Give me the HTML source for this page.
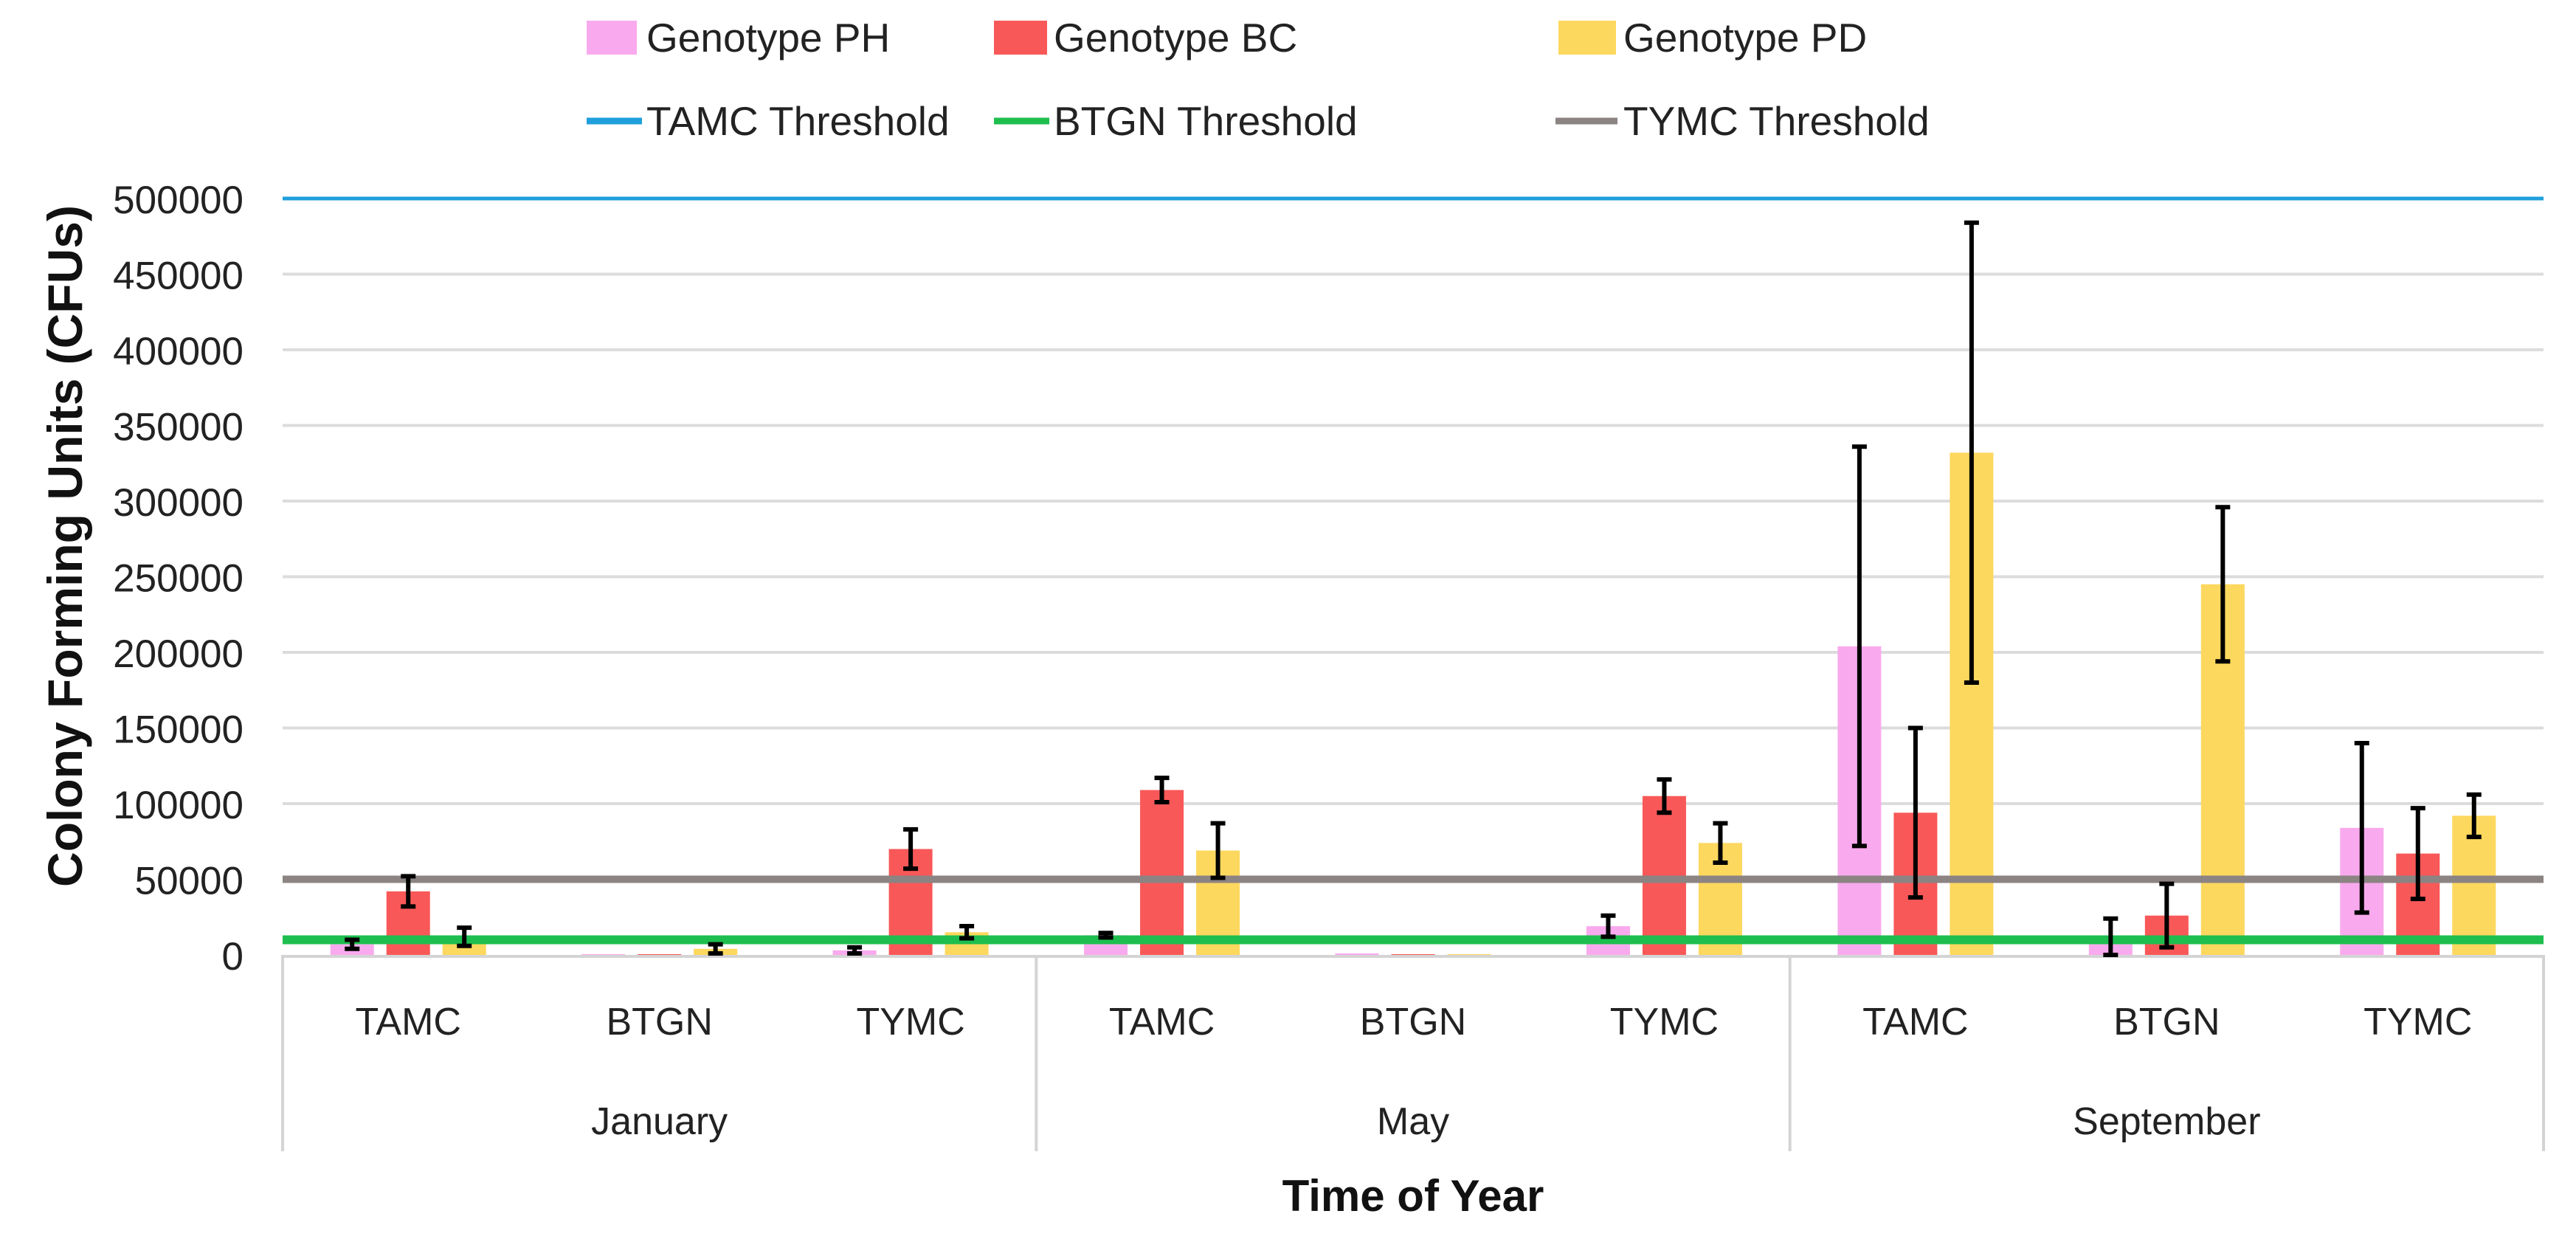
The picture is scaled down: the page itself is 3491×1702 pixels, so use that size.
<!DOCTYPE html>
<html><head><meta charset="utf-8"><style>
html,body{margin:0;padding:0;background:#fff;}
svg{display:block;font-family:"Liberation Sans",sans-serif;}
</style></head><body>
<svg id="chart" width="3491" height="1702" viewBox="0 0 3491 1702" xmlns="http://www.w3.org/2000/svg">
<g id="grid"></g>
<g id="yticks"></g>
<g id="xaxis"></g>
<g id="bars"></g>
<g id="thresholds"></g>
<g id="errs"></g>
<text x="0" y="0" transform="translate(111,740) rotate(-90)" text-anchor="middle" font-size="66" font-weight="bold" fill="#111">Colony Forming Units (CFUs)</text>
<text x="1915" y="1641" text-anchor="middle" font-size="60" font-weight="bold" fill="#111">Time of Year</text>
<g font-size="55" fill="#222">
 <g><rect x="795" y="28" width="68" height="46" fill="#f9aaee"/><text x="876" y="70">Genotype PH</text></g>
 <g><rect x="1347" y="28" width="72" height="46" fill="#f95858"/><text x="1428" y="70">Genotype BC</text></g>
 <g><rect x="2112" y="28" width="78" height="46" fill="#fdd85e"/><text x="2200" y="70">Genotype PD</text></g>
 <g><line x1="795" y1="164" x2="870" y2="164" stroke="#1f9fdc" stroke-width="9"/><text x="876" y="183">TAMC Threshold</text></g>
 <g><line x1="1347" y1="164" x2="1422" y2="164" stroke="#1ebe4e" stroke-width="9"/><text x="1428" y="183">BTGN Threshold</text></g>
 <g><line x1="2108" y1="164" x2="2192" y2="164" stroke="#8c8383" stroke-width="9"/><text x="2200" y="183">TYMC Threshold</text></g>
</g>
</svg>
<script>
const months = ["January","May","September"];
const categories = ["TAMC","BTGN","TYMC","TAMC","BTGN","TYMC","TAMC","BTGN","TYMC"];
const yTicks = [0,50000,100000,150000,200000,250000,300000,350000,400000,450000,500000];
const seriesNames = ["Genotype PH","Genotype BC","Genotype PD"];
const phValues = [7000,500,3000,13000,1000,19000,204000,12000,84000];
const phErr = [3000,0,2000,1500,0,7000,132000,12000,56000];
const bcValues = [42000,500,70000,109000,500,105000,94000,26000,67000];
const bcErr = [10000,0,13000,8000,0,11000,56000,21000,30000];
const pdValues = [12000,4000,15000,69000,500,74000,332000,245000,92000];
const pdErr = [6000,3000,4000,18000,0,13000,152000,51000,14000];
const thresholdValues = [500000,10000,50000];

const NS="http://www.w3.org/2000/svg";
const L=383,R=3447,Y0=1294,Y1=269;
const y=v=>Y0-(v/500000)*(Y0-Y1);
const cw=(R-L)/categories.length;
const xc=i=>L+cw*(i+0.5);
function mk(tag,attrs,parent){const e=document.createElementNS(NS,tag);for(const k in attrs)e.setAttribute(k,attrs[k]);parent.appendChild(e);return e;}
const grid=document.getElementById('grid'),yt=document.getElementById('yticks');
yTicks.forEach(t=>{
  if(t>0&&t<500000){const g=mk('line',{x1:L,x2:R,y1:y(t),y2:y(t),stroke:'#dcdcdc','stroke-width':4},grid);
  
  }
  const tx=mk('text',{x:330,y:y(t)+20,'text-anchor':'end','font-size':53,fill:'#222'},yt);
  tx.textContent=t;
  
  
});
const xa=document.getElementById('xaxis');
mk('line',{x1:L,x2:R,y1:Y0+2,y2:Y0+2,stroke:'#d4d4d4','stroke-width':4},xa);
[0,3,6,9].forEach(i=>{const sx=L+cw*i;const s=mk('line',{x1:sx,x2:sx,y1:Y0,y2:1560,stroke:'#d4d4d4','stroke-width':4},xa);
  
  });
categories.forEach((c,i)=>{const t=mk('text',{x:xc(i),y:1402,'text-anchor':'middle','font-size':52,fill:'#222'},xa);t.textContent=c;
  
  });
months.forEach((m,i)=>{const t=mk('text',{x:L+cw*(3*i+1.5),y:1537,'text-anchor':'middle','font-size':52,fill:'#222'},xa);t.textContent=m;
  
  });
const bars=document.getElementById('bars'),errs=document.getElementById('errs');
const series=[[phValues,phErr,'#f9aaee'],[bcValues,bcErr,'#f95858'],[pdValues,pdErr,'#fdd85e']];
const bw=59,off=76;
series.forEach((s,si)=>{
  s[0].forEach((v,i)=>{
    const cx=xc(i)+(si-1)*off;
    const b=mk('rect',{x:cx-bw/2,y:y(v),width:bw,height:Y0-y(v),fill:s[2]},bars);
    
    
    const e=s[1][i];
    if(e>0){
      const g=mk('g',{stroke:'#000','stroke-width':6},errs);
      
      
      const lo=Math.max(0,v-e),hi=v+e;
      mk('line',{x1:cx,x2:cx,y1:y(hi),y2:y(lo)},g);
      mk('line',{x1:cx-10,x2:cx+10,y1:y(hi),y2:y(hi)},g);
      mk('line',{x1:cx-10,x2:cx+10,y1:y(lo),y2:y(lo)},g);
    }
  });
});
const th=document.getElementById('thresholds');
const thColors=['#1f9fdc','#1ebe4e','#8c8383'],thW=[5,12,10],thNames=['tamc-threshold-line','btgn-threshold-line','tymc-threshold-line'];
thresholdValues.forEach((v,i)=>{const l=mk('line',{x1:L,x2:R,y1:y(v),y2:y(v),stroke:thColors[i],'stroke-width':thW[i]},th);
  
  });
</script>
</body></html>
